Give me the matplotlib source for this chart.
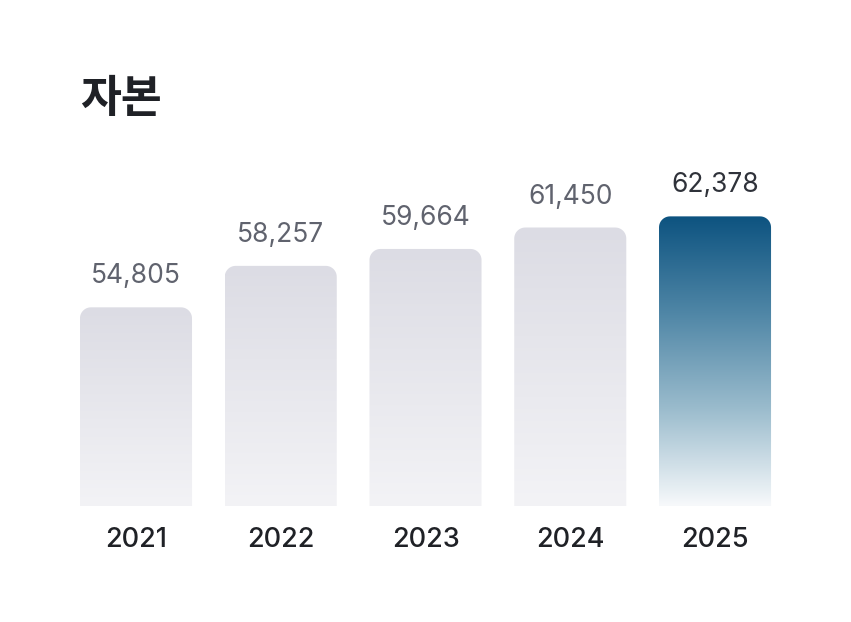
import numpy as np
import matplotlib
matplotlib.use("Agg")
import matplotlib.pyplot as plt
from matplotlib.path import Path
from matplotlib.colors import LinearSegmentedColormap

# data
years = ["2021", "2022", "2023", "2024", "2025"]
values = [54805, 58257, 59664, 61450, 62378]
title = "자본"

plt.rcParams['font.family'] = ['Inter', 'Noto Sans CJK KR', 'DejaVu Sans']

fig = plt.figure(figsize=(8.51, 6.22), dpi=100)
W, H = 851, 622
# axes placed in pixels: left, bottom, width, height
ax = fig.add_axes([63.6 / W, 116 / H, 723.8 / W, 356 / H])
ax.set_xlim(-0.5, 4.5)
ax.set_ylim(38262, 67904)
ax.axis("off")

x = np.arange(len(years))
bars = ax.bar(x, values, width=0.774, color="none")

gray = LinearSegmentedColormap.from_list("g", ["#f3f3f6", "#dcdce4"])
blue = LinearSegmentedColormap.from_list("b", ["#f7f9fb", "#9bbccd", "#4f86a6", "#0d5380"])

ybot = ax.get_ylim()[0]
# corner radius in data units (about 11 px)
rx = 11 / 144.76
ry = 11 * (67904 - 38262) / 356


def rounded_top(x0, x1, y0, y1):
    t = np.linspace(0, np.pi / 2, 12)
    pts = [(x0, y0), (x1, y0)]
    # top right corner
    pts += [(x1 - rx + rx * np.cos(a), y1 - ry + ry * np.sin(a)) for a in t]
    # top left corner
    pts += [(x0 + rx - rx * np.sin(a), y1 - ry + ry * np.cos(a)) for a in t]
    pts.append((x0, y0))
    return Path(pts, closed=True)


grad = np.linspace(0, 1, 256).reshape(-1, 1)
for i, b in enumerate(bars):
    x0 = b.get_x()
    x1 = x0 + b.get_width()
    top = b.get_height()
    cmap = blue if i == len(bars) - 1 else gray
    im = ax.imshow(grad, extent=(x0, x1, ybot, top), origin="lower",
                   cmap=cmap, aspect="auto", interpolation="bicubic")
    im.set_clip_path(rounded_top(x0, x1, ybot, top), transform=ax.transData)

    color = "#2f323a" if i == len(bars) - 1 else "#60636e"
    ax.annotate(f"{values[i]:,}", (b.get_x() + b.get_width() / 2, top),
                xytext=(0, 31), textcoords="offset pixels",
                ha="center", va="center", fontsize=19, color=color)
    ax.annotate(years[i], (b.get_x() + b.get_width() / 2, ybot),
                xytext=(0, -34), textcoords="offset pixels",
                ha="center", va="center", fontsize=19.5, color="#1f2126",
                fontweight="medium")

ax.set_xlim(-0.5, 4.5)
ax.set_ylim(38262, 67904)

fig.text(80 / W, 1 - 99 / H, title, fontsize=32, fontweight="bold",
         color="#1f2126", ha="left", va="center",
         family=['Noto Sans CJK KR', 'DejaVu Sans'])

fig.savefig("out.png", dpi=100)
